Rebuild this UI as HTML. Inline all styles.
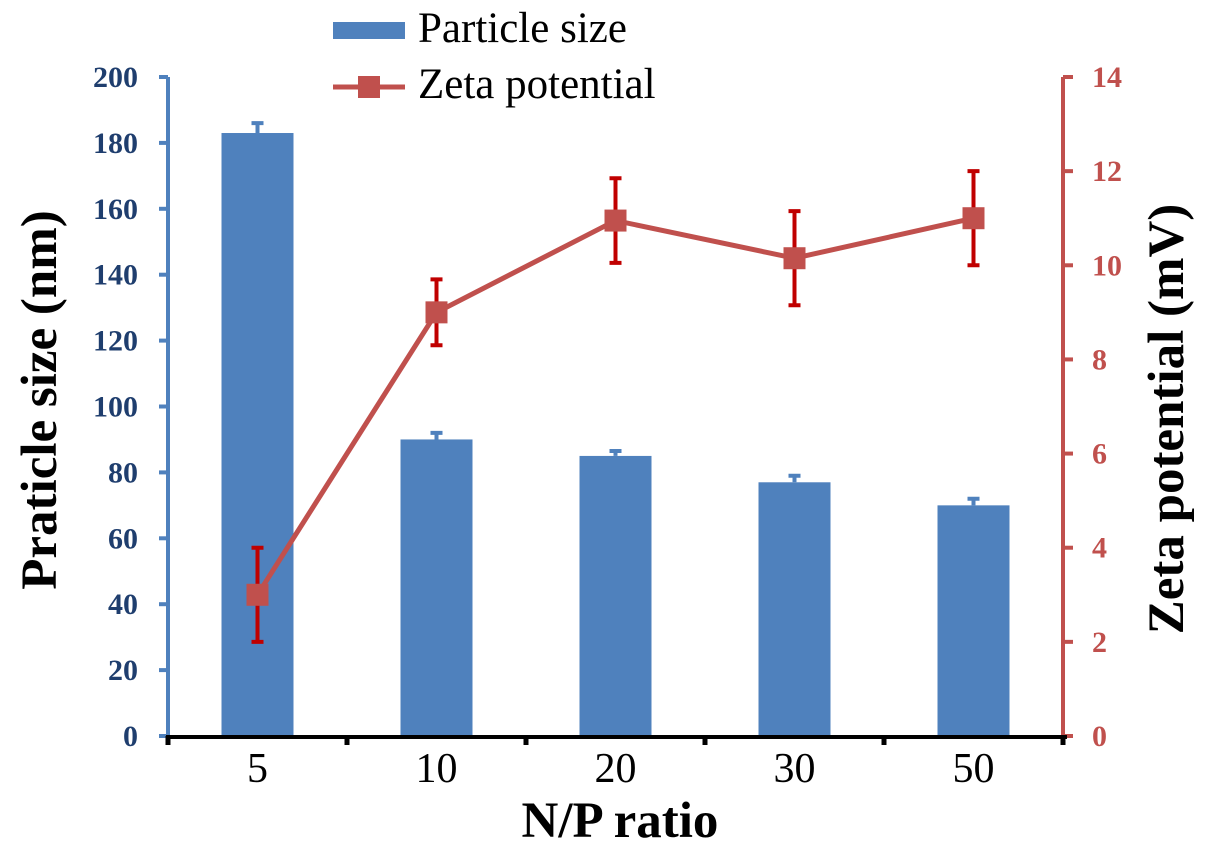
<!DOCTYPE html>
<html><head><meta charset="utf-8"><style>
body{margin:0;background:#fff}
text{font-family:"Liberation Serif",serif}
</style></head><body>
<svg id="c" width="1205" height="846" viewBox="0 0 1205 846" xmlns="http://www.w3.org/2000/svg">
<g id="g"></g>
</svg>
<script>
const categories=["5","10","20","30","50"];
const sizeValues=[183,90,85,77,70];
const sizeErrors=[3,2,1.5,2,2];
const zetaValues=[3,9,10.95,10.15,11];
const zetaErrors=[1,0.7,0.9,1,1];
const leftTicks=[0,20,40,60,80,100,120,140,160,180,200];
const rightTicks=[0,2,4,6,8,10,12,14];
const NS="http://www.w3.org/2000/svg";
const g=document.getElementById('g');
const X0=168,X1=1063,Y0=736,Y1=77;
const cw=(X1-X0)/categories.length;
const xc=i=>X0+cw*(i+0.5);
const yL=v=>Y0-(v/200)*(Y0-Y1);
const yR=v=>Y0-(v/14)*(Y0-Y1);
function el(t,a,txt){const e=document.createElementNS(NS,t);for(const k in a)e.setAttribute(k,a[k]);if(txt!==undefined)e.textContent=txt;g.appendChild(e);return e;}
// bars
categories.forEach((c,i)=>{
 const b=el('rect',{x:xc(i)-36,y:yL(sizeValues[i]),width:72,height:Y0-yL(sizeValues[i]),fill:'#4f81bd'});
 
 
 const e=el('path',{d:`M${xc(i)},${yL(sizeValues[i])}V${yL(sizeValues[i]+sizeErrors[i])}M${xc(i)-6},${yL(sizeValues[i]+sizeErrors[i])}H${xc(i)+6}`,stroke:'#4f81bd','stroke-width':4,fill:'none'});
 
 
});
// left axis
el('line',{x1:X0,y1:Y1,x2:X0,y2:Y0,stroke:'#4f81bd','stroke-width':4});
leftTicks.forEach(v=>{
 el('line',{x1:X0-9,y1:yL(v),x2:X0,y2:yL(v),stroke:'#4f81bd','stroke-width':4});
 const t=el('text',{x:138,y:yL(v)+10,'text-anchor':'end','font-size':30,'font-weight':'bold',fill:'#1f3e6e'},v);
 
 
});
// right axis
el('line',{x1:X1,y1:Y1,x2:X1,y2:Y0,stroke:'#c0504d','stroke-width':4});
rightTicks.forEach(v=>{
 el('line',{x1:X1,y1:yR(v),x2:X1+10,y2:yR(v),stroke:'#c0504d','stroke-width':4});
 const t=el('text',{x:1092,y:yR(v)+10,'font-size':30,'font-weight':'bold',fill:'#c0504d'},v);
 
 
});
// x axis
el('line',{x1:X0-2,y1:Y0+1,x2:X1+4,y2:Y0+1,stroke:'#000','stroke-width':4});
for(let i=0;i<=categories.length;i++){el('line',{x1:X0+cw*i,y1:Y0,x2:X0+cw*i,y2:Y0+9,stroke:'#000','stroke-width':5});}
categories.forEach((c,i)=>{
 const t=el('text',{x:xc(i),y:782,'text-anchor':'middle','font-size':42,fill:'#000'},c);
 
 
});
// zeta line
const pts=zetaValues.map((v,i)=>xc(i)+','+yR(v)).join(' ');
const ln=el('polyline',{points:pts,fill:'none',stroke:'#c0504d','stroke-width':5});


zetaValues.forEach((v,i)=>{
 const t=yR(v+zetaErrors[i]),b=yR(v-zetaErrors[i]);
 el('path',{d:`M${xc(i)},${t}V${b}M${xc(i)-6},${t}H${xc(i)+6}M${xc(i)-6},${b}H${xc(i)+6}`,stroke:'#c00000','stroke-width':4,fill:'none'});
 const m=el('rect',{x:xc(i)-11,y:yR(v)-11,width:22,height:22,fill:'#c0504d'});
 
 
});
// titles
let t=el('text',{x:0,y:0,transform:'translate(56,400) rotate(-90)','text-anchor':'middle','font-size':51,'font-weight':'bold',fill:'#000'},'Praticle size (nm)');

t=el('text',{x:0,y:0,transform:'translate(1183,419) rotate(-90)','text-anchor':'middle','font-size':51,'font-weight':'bold',fill:'#000'},'Zeta potential (mV)');

t=el('text',{x:620,y:837,'text-anchor':'middle','font-size':51,'font-weight':'bold',fill:'#000'},'N/P ratio');

// legend
el('rect',{x:333,y:22,width:72,height:17,fill:'#4f81bd'});
t=el('text',{x:418,y:42,'font-size':43,fill:'#000'},'Particle size');

el('line',{x1:333,y1:87,x2:405,y2:87,stroke:'#c0504d','stroke-width':5});
el('rect',{x:358,y:76,width:22,height:22,fill:'#c0504d'});
t=el('text',{x:418,y:98,'font-size':43,fill:'#000'},'Zeta potential');

</script>
</body></html>
